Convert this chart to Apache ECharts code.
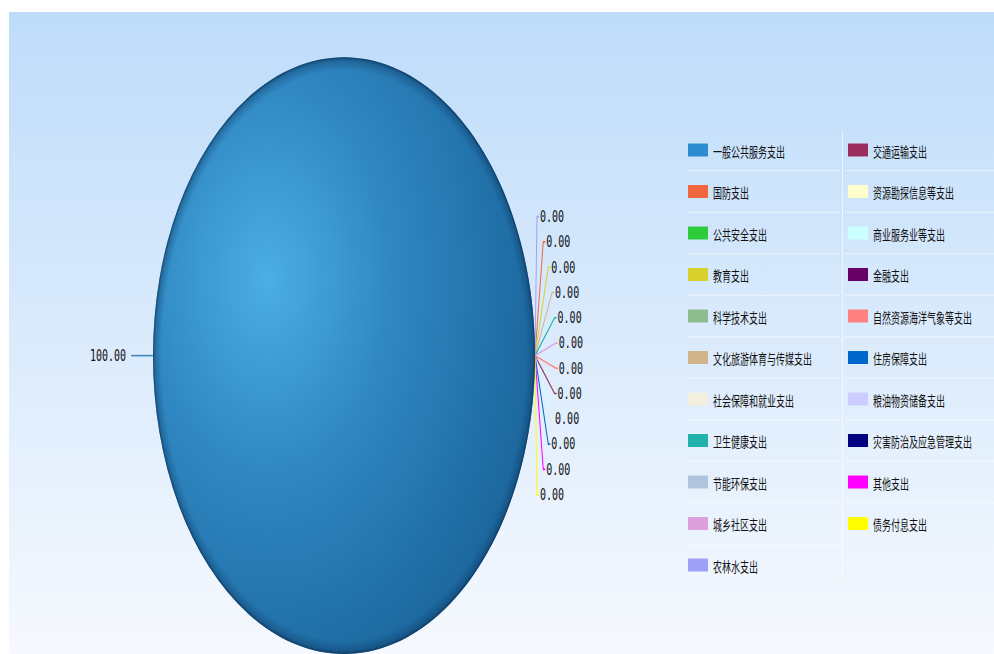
<!DOCTYPE html>
<html>
<head>
<meta charset="utf-8">
<script src="https://cdn.jsdelivr.net/npm/echarts@6/dist/echarts.min.js"></script>
<style>
html,body{margin:0;padding:0;background:#fff;width:994px;height:654px;overflow:hidden;}
#wrap{position:absolute;left:9px;top:12px;width:985px;height:642px;overflow:hidden;}
#chart{width:985px;height:411px;transform:scaleY(1.562);transform-origin:0 0;}
</style>
</head>
<body>
<div id="wrap"><div id="chart"></div></div>
<script>
// ---- data ----
const categories = [
  '一般公共服务支出','国防支出','公共安全支出','教育支出','科学技术支出',
  '文化旅游体育与传媒支出','社会保障和就业支出','卫生健康支出','节能环保支出','城乡社区支出',
  '农林水支出','交通运输支出','资源勘探信息等支出','商业服务业等支出','金融支出',
  '自然资源海洋气象等支出','住房保障支出','粮油物资储备支出','灾害防治及应急管理支出','其他支出',
  '债务付息支出'
];
const values = [100,0,0,0,0,0,0,0,0,0,0,0,0,0,0,0,0,0,0,0,0];
const colors = [
  '#2b8ccf','#f0673f','#2ecc3a','#d8d02c','#8fbc8f',
  '#d2b48c','#f3efdf','#20b2aa','#b0c4de','#dda0dd',
  '#a0a0f8','#9b2d5c','#ffffcc','#ccffff','#660066',
  '#ff8080','#0066cc','#ccccff','#000080','#ff00ff',
  '#ffff00'
];
const legendCol1 = categories.slice(0, 11);
const legendCol2 = categories.slice(11);
// zero-value slices whose labels are visible in the picture, top to bottom
const labelledZeros = [
  '农林水支出','国防支出','教育支出','文化旅游体育与传媒支出','卫生健康支出','城乡社区支出',
  '自然资源海洋气象等支出','交通运输支出','商业服务业等支出','住房保障支出','其他支出','债务付息支出'
];

const SY = 1.562;              // vertical stretch applied to the drawing
const toPre = y => (y - 12) / SY;

const chart = echarts.init(document.getElementById('chart'), null, {renderer: 'svg'});

const mainGradient = {
  type: 'radial', x: 0.3, y: 0.37, r: 0.8,
  colorStops: [
    {offset: 0, color: '#4baee4'},
    {offset: 0.4, color: '#3088c2'},
    {offset: 0.78, color: '#206fa7'},
    {offset: 1, color: '#196196'}
  ]
};
const rimGradient = {
  type: 'radial', x: 0.5, y: 0.5, r: 0.5,
  colorStops: [
    {offset: 0, color: 'rgba(8,45,85,0)'},
    {offset: 0.955, color: 'rgba(8,45,85,0)'},
    {offset: 0.988, color: 'rgba(8,45,85,0.3)'},
    {offset: 1, color: 'rgba(6,38,72,0.7)'}
  ]
};

const pieData = categories.map((name, i) => {
  const item = {name: name, value: values[i], itemStyle: {color: colors[i]}};
  if (i === 0) {
    item.itemStyle = {color: mainGradient};
    item.labelLine = {length: 12, length2: 10, lineStyle: {color: '#3a8cc0'}};
  } else if (labelledZeros.indexOf(name) < 0) {
    item.label = {show: false};
    item.labelLine = {show: false};
  }
  return item;
});
const rimData = categories.map((name, i) => ({name: name, value: values[i]}));

// spread the zero labels in a fan to the right of the slice edge
function zeroLabelLayout(params) {
  if (params.dataIndex === 0) return {};
  const name = categories[params.dataIndex];
  const k = labelledZeros.indexOf(name);
  if (k < 0) return {};
  const anchor = params.labelLinePoints ? params.labelLinePoints[0]
    : [params.rect.x + params.rect.width, params.rect.y + params.rect.height / 2];
  const half = 89;
  const n = labelledZeros.length;
  const dy = -half + (2 * half) * k / (n - 1);
  const t = Math.abs(dy) / half;
  const x = anchor[0] + 5 + 19 * (1 - t * t);
  const y = anchor[1] + dy;
  return {
    x: x, y: y, align: 'left', verticalAlign: 'middle',
    labelLinePoints: [[anchor[0], anchor[1]], [x - 3, y], [x - 1, y]]
  };
}

// separator lines of the legend table
const graphics = [];
const rowPitch = 41.5, firstRow = 150;
for (let k = 0; k < 10; k++) {
  const y = toPre(firstRow + rowPitch / 2 + k * rowPitch);
  graphics.push({type: 'line', silent: true, shape: {x1: 679, y1: y, x2: 831, y2: y},
    style: {stroke: 'rgba(255,255,255,0.6)', lineWidth: 0.7}});
  if (k < 9) graphics.push({type: 'line', silent: true, shape: {x1: 836, y1: y, x2: 985, y2: y},
    style: {stroke: 'rgba(255,255,255,0.6)', lineWidth: 0.7}});
}
graphics.push({type: 'line', silent: true,
  shape: {x1: 833.5, y1: toPre(130), x2: 833.5, y2: toPre(578)},
  style: {stroke: 'rgba(255,255,255,0.6)', lineWidth: 1}});

const legendCommon = {
  orient: 'vertical', padding: 0, icon: 'rect',
  itemWidth: 20, itemHeight: 8.3, itemGap: 14.57,
  top: toPre(150) - 6,
  textStyle: {fontSize: 9, lineHeight: 12, color: '#111', fontFamily: 'Noto Sans CJK SC'}
};
const legendItems = list => list.map(name => ({
  name: name, itemStyle: {color: colors[categories.indexOf(name)]}
}));

chart.setOption({
  backgroundColor: {
    type: 'linear', x: 0, y: 0, x2: 0, y2: 1,
    colorStops: [{offset: 0, color: '#bedcfa'}, {offset: 1, color: '#f6f9fe'}]
  },
  animation: false,
  color: colors,
  graphic: graphics,
  legend: [
    Object.assign({}, legendCommon, {left: 679, data: legendItems(legendCol1)}),
    Object.assign({}, legendCommon, {left: 839, data: legendItems(legendCol2)})
  ],
  series: [
    {
      type: 'pie', name: 'main',
      center: [335, 220], radius: 191,
      startAngle: 0, clockwise: true,
      avoidLabelOverlap: false,
      label: {
        show: true, position: 'outside',
        formatter: p => Number(p.value).toFixed(2),
        fontFamily: 'DejaVu Sans Mono', fontSize: 10, color: '#111', lineHeight: 10
      },
      labelLine: {show: true, length: 8, length2: 6, lineStyle: {width: 1}},
      labelLayout: zeroLabelLayout,
      emphasis: {disabled: true},
      data: pieData
    },
    {
      type: 'pie', name: 'rim', silent: true,
      center: [335, 220], radius: 191,
      startAngle: 0, clockwise: true,
      label: {show: false}, labelLine: {show: false},
      emphasis: {disabled: true},
      itemStyle: {color: rimGradient},
      data: rimData
    }
  ]
});
</script>
</body>
</html>
